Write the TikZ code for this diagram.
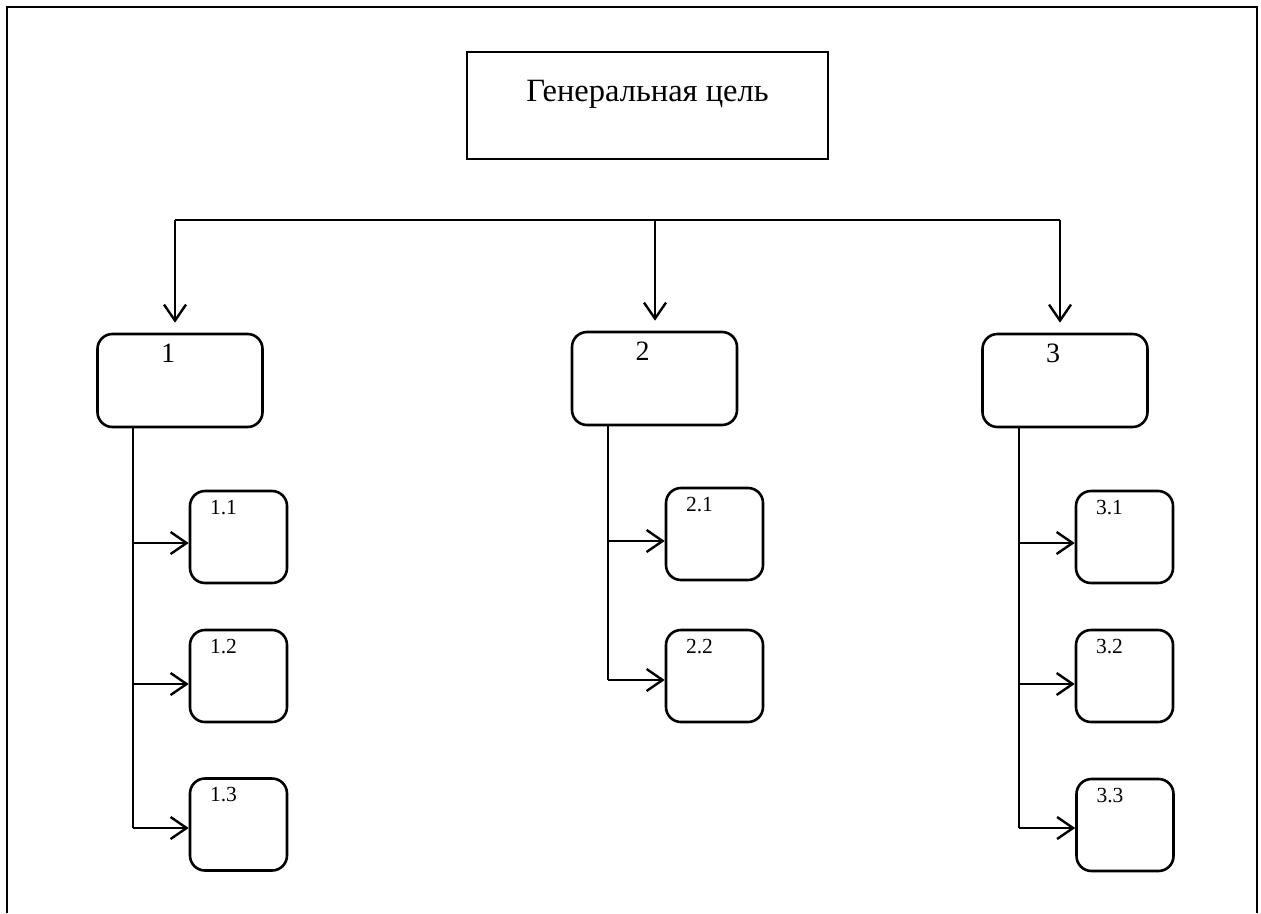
\documentclass[tikz,border=0pt]{standalone}
\usepackage{fontspec}
\setmainfont{Liberation Serif}
\usetikzlibrary{positioning, arrows.meta}

\begin{document}
\begin{tikzpicture}[x=1pt, y=-1pt,
    goalbox/.style={draw, line width=2.4pt, minimum width=361pt, minimum height=107pt, inner sep=0pt},
    mainbox/.style={draw, line width=2.6pt, rounded corners=15pt, minimum width=165pt, minimum height=93pt, inner sep=0pt},
    subbox/.style={draw, line width=2.6pt, rounded corners=15pt, minimum width=97pt, minimum height=92pt, inner sep=0pt},
    goallab/.style={anchor=north, inner sep=0pt, yshift=-29pt, font=\fontsize{32.5}{38}\selectfont},
    mainlab/.style={anchor=north, inner sep=0pt, xshift=-12pt, yshift=-11pt, font=\fontsize{28}{32}\selectfont},
    sublab/.style={anchor=north, inner sep=0pt, xshift=-15pt, yshift=-10pt, font=\fontsize{21.5}{25}\selectfont},
    arr/.style={-{Straight Barb[length=16pt, width=22pt, line width=2.4pt]}, line width=2.4pt},
    trunk/.style={line width=2pt}]
    \useasboundingbox (0,0) rectangle (1261,913);
    % frame, open at the bottom
    \draw[line width=2.6pt] (7,913) -- (7,7) -- (1257,7) -- (1257,913);

    \node[goalbox, label={[goallab]north:Генеральная цель}] (goal) at (647.5,105.5) {};

    \node[mainbox, label={[mainlab]north:1}] (b1) at (180,380.5) {};
    \node[mainbox, label={[mainlab]north:2}] (b2) at (654.5,378.5) {};
    \node[mainbox, label={[mainlab]north:3}] (b3) at (1065,380.5) {};

    \node[subbox, label={[sublab]north:1.1}] (b11) at (238.5,537) {};
    \node[subbox, label={[sublab]north:1.2}] (b12) at (238.5,676) {};
    \node[subbox, label={[sublab]north:1.3}] (b13) at (238.5,824.5) {};
    \node[subbox, label={[sublab]north:2.1}] (b21) at (714.5,534) {};
    \node[subbox, label={[sublab]north:2.2}] (b22) at (714.5,676) {};
    \node[subbox, label={[sublab]north:3.1}] (b31) at (1124.5,537) {};
    \node[subbox, label={[sublab]north:3.2}] (b32) at (1124.5,676) {};
    \node[subbox, label={[sublab]north:3.3}] (b33) at (1125,825) {};

    % bus
    \coordinate (busL) at (175,220);
    \coordinate (busM) at (655,220);
    \coordinate (busR) at (1060,220);
    \draw[line width=2.4pt] (busL) -- (busR);
    \draw[arr, shorten >=10pt] (busL) -- (busL |- b1.north);
    \draw[arr, shorten >=10pt] (busM) -- (busM |- b2.north);
    \draw[arr, shorten >=10pt] (busR) -- (busR |- b3.north);

    % branch points
    \coordinate (j11) at (133,543);
    \coordinate (j12) at (133,684);
    \coordinate (j13) at (133,828);
    \coordinate (j21) at (608,541);
    \coordinate (j22) at (608,680);
    \coordinate (j31) at (1019,543);
    \coordinate (j32) at (1019,684);
    \coordinate (j33) at (1019,828);

    \draw[trunk] (b1.south -| j11) -- (j13);
    \draw[trunk] (b2.south -| j21) -- (j22);
    \draw[trunk] (b3.south -| j31) -- (j33);

    \draw[arr] (j11) -- (j11 -| b11.west);
    \draw[arr] (j12) -- (j12 -| b12.west);
    \draw[arr] (j13) -- (j13 -| b13.west);
    \draw[arr] (j21) -- (j21 -| b21.west);
    \draw[arr] (j22) -- (j22 -| b22.west);
    \draw[arr] (j31) -- (j31 -| b31.west);
    \draw[arr] (j32) -- (j32 -| b32.west);
    \draw[arr] (j33) -- (j33 -| b33.west);
\end{tikzpicture}
\end{document}
